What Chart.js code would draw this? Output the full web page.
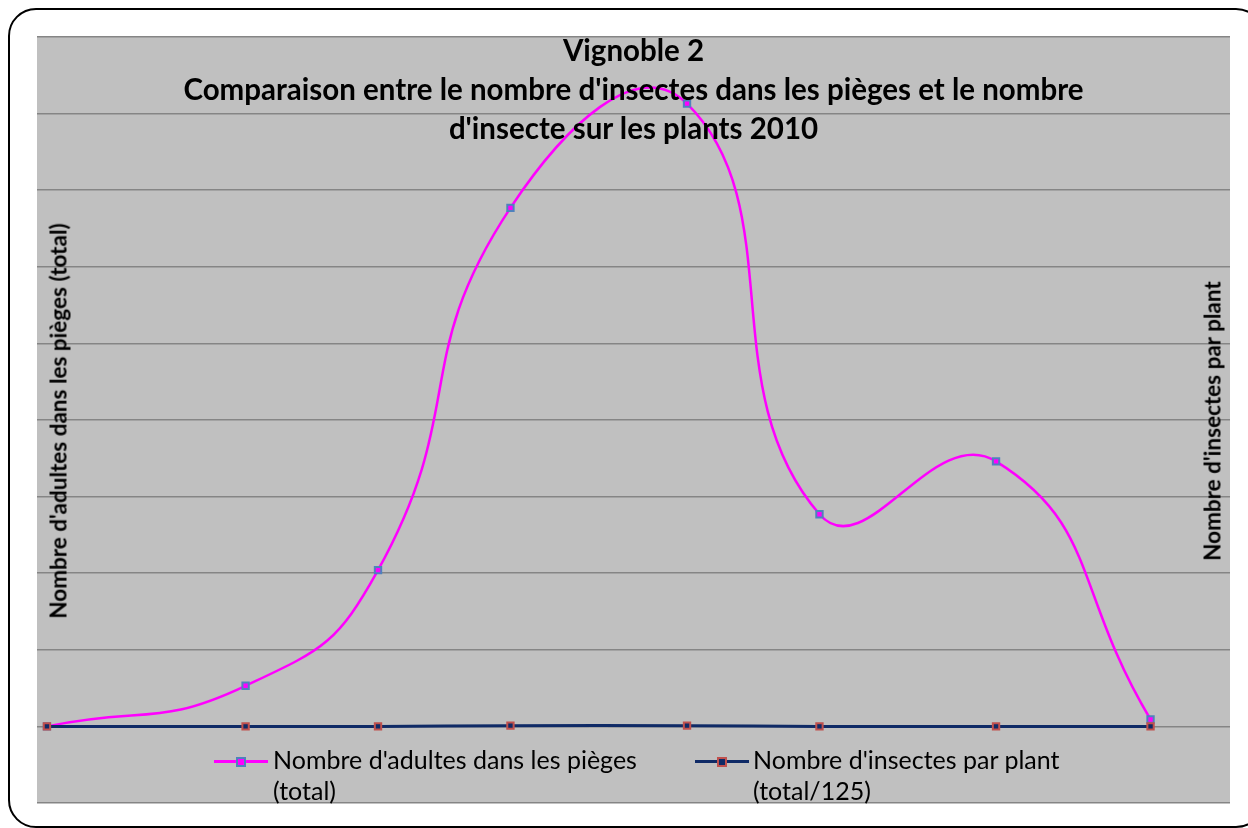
<!DOCTYPE html>
<html lang="fr">
<head>
<meta charset="utf-8">
<title>Vignoble 2</title>
<script src="https://cdn.jsdelivr.net/npm/chart.js@4/dist/chart.umd.min.js"></script>
<style>
  html, body { margin: 0; padding: 0; background: #fff; }
  body { width: 1248px; height: 828px; position: relative; overflow: hidden; font-family: Lato, "Open Sans", sans-serif; }
  .frame { position: absolute; left: 8px; top: 8px; width: 1256px; height: 820px; border: 2px solid #000; border-radius: 28px; box-sizing: border-box; }
  #chart { position: absolute; left: 0; top: 0; }
  .title { position: absolute; left: 37px; width: 1193px; top: 30px; text-align: center; font-weight: bold; font-size: 29.5px; line-height: 39px; color: #000; }
  .ytitle { position: absolute; font-weight: bold; font-size: 22.5px; color: #000; white-space: nowrap; transform: translate(-50%, -50%) rotate(-90deg); }
  .legend { position: absolute; top: 744px; font-size: 25px; line-height: 31px; color: #000; }
  .legend .sym { position: absolute; width: 54px; height: 3px; }
  .legend .sym i { position: absolute; left: 22px; top: -3px; width: 6px; height: 6px; border: 2px solid; }
</style>
</head>
<body>
<div class="frame"></div>
<canvas id="chart" width="1248" height="828"></canvas>

<div class="title">Vignoble 2<br>Comparaison entre le nombre d'insectes dans les pièges et le nombre<br>d'insecte sur les plants 2010</div>
<div class="ytitle" style="left:58px; top:421px;">Nombre d'adultes dans les pièges (total)</div>
<div class="ytitle" style="left:1212px; top:421px;">Nombre d'insectes par plant</div>

<div class="legend" style="left:214px;">
  <span class="sym" style="left:0; top:16px; background:#ff00ff;"><i style="background:#ff00ff; border-color:#4f81bd;"></i></span>
  <div style="margin-left:59px;">Nombre d'adultes dans les pièges<br>(total)</div>
</div>
<div class="legend" style="left:695px;">
  <span class="sym" style="left:0; top:16px; background:#0f2a66;"><i style="background:#0f2a66; border-color:#c0504d;"></i></span>
  <div style="margin-left:58px;">Nombre d'insectes par plant<br>(total/125)</div>
</div>

<script>
// Jours de relevé (écart en jours depuis le premier relevé)
const jours = [0, 9, 15, 21, 29, 35, 43, 50];

// Nombre d'adultes dans les pièges (total)
const adultesPieges = [0, 53, 204, 677, 813, 277, 346, 9];

// Nombre d'insectes par plant (total/125)
const insectesPlant = [0, 0, 0, 1, 1, 0, 0, 0];

const yMin = -100;
const yMax = 900;
const yStep = 100;

function toPoints(values) {
  return jours.map((j, i) => ({ x: j, y: values[i] }));
}

// fond gris de la zone de tracé
const plotBg = {
  id: 'plotBg',
  beforeDraw(chart) {
    const a = chart.chartArea;
    const ctx = chart.ctx;
    ctx.save();
    ctx.fillStyle = '#c0c0c0';
    ctx.fillRect(a.left, a.top, a.right - a.left, a.bottom - a.top);
    ctx.restore();
  }
};

const ctx = document.getElementById('chart').getContext('2d');
const chart = new Chart(ctx, {
  type: 'line',
  data: {
    datasets: [{
      label: "Nombre d'adultes dans les pièges (total)",
      data: toPoints(adultesPieges),
      borderColor: '#ff00ff',
      borderWidth: 2.5,
      tension: 0.5,
      pointStyle: 'rect',
      pointRadius: 4.5,
      pointBackgroundColor: '#ff00ff',
      pointBorderColor: '#4f81bd',
      pointBorderWidth: 2,
      order: 1
    }, {
      label: "Nombre d'insectes par plant (total/125)",
      data: toPoints(insectesPlant),
      borderColor: '#0f2a66',
      borderWidth: 3,
      tension: 0.5,
      pointStyle: 'rect',
      pointRadius: 4.5,
      pointBackgroundColor: '#0f2a66',
      pointBorderColor: '#c0504d',
      pointBorderWidth: 2,
      order: 0
    }]
  },
  options: {
    responsive: false,
    animation: false,
    layout: {
      padding: { left: 37, top: 37, right: 18, bottom: 25 }
    },
    plugins: {
      legend: { display: false },
      title: { display: false },
      tooltip: { enabled: false }
    },
    scales: {
      x: {
        type: 'linear',
        min: -0.45,
        max: 53.6,
        display: false
      },
      y: {
        min: yMin,
        max: yMax,
        ticks: { display: false, stepSize: yStep },
        grid: { color: '#858585', lineWidth: 1.5, drawTicks: false },
        border: { display: false }
      }
    }
  },
  plugins: [plotBg]
});
</script>
</body>
</html>
